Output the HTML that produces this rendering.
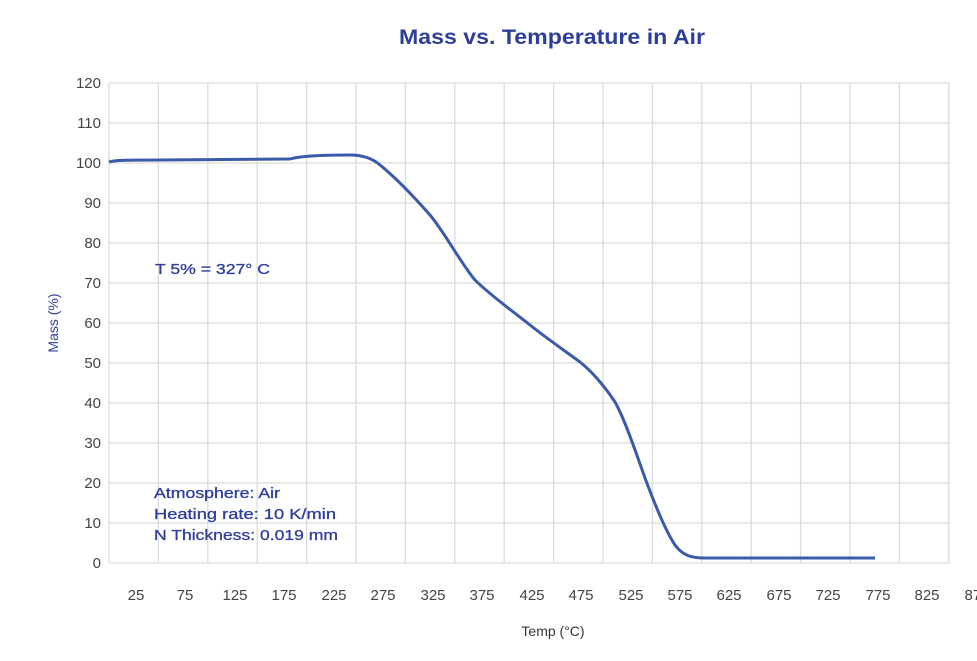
<!DOCTYPE html>
<html><head><style>
body{margin:0;background:#fff;}
svg{display:block;font-family:"Liberation Sans",sans-serif;}
</style></head><body>
<svg width="977" height="661" viewBox="0 0 977 661">
<text x="399" y="44" textLength="306" lengthAdjust="spacingAndGlyphs" font-size="21" font-weight="bold" fill="#2e3f9a">Mass vs. Temperature in Air</text>
<g stroke="#dcdcdc" stroke-width="1.3" fill="none">
<path d="M109 83H949M109 123H949M109 163H949M109 203H949M109 243H949M109 283H949M109 323H949M109 363H949M109 403H949M109 443H949M109 483H949M109 523H949M109 563H949"/>
<path d="M109 83V563M158.4 83V563M207.8 83V563M257.2 83V563M306.6 83V563M356 83V563M405.4 83V563M454.8 83V563M504.2 83V563M553.6 83V563M603 83V563M652.4 83V563M701.8 83V563M751.2 83V563M800.6 83V563M850 83V563M899.4 83V563M948.8 83V563"/>
</g>
<g font-size="15" fill="#444" text-anchor="end">
<text x="101" y="88">120</text><text x="101" y="128">110</text><text x="101" y="168">100</text>
<text x="101" y="208">90</text><text x="101" y="248">80</text><text x="101" y="288">70</text>
<text x="101" y="328">60</text><text x="101" y="368">50</text><text x="101" y="408">40</text>
<text x="101" y="448">30</text><text x="101" y="488">20</text><text x="101" y="528">10</text>
<text x="101" y="568">0</text>
</g>
<g font-size="15" fill="#444" text-anchor="middle">
<text x="136" y="600">25</text><text x="185" y="600">75</text><text x="235" y="600">125</text>
<text x="284" y="600">175</text><text x="334" y="600">225</text><text x="383" y="600">275</text>
<text x="433" y="600">325</text><text x="482" y="600">375</text><text x="532" y="600">425</text>
<text x="581" y="600">475</text><text x="631" y="600">525</text><text x="680" y="600">575</text>
<text x="729" y="600">625</text><text x="779" y="600">675</text><text x="828" y="600">725</text>
<text x="878" y="600">775</text><text x="927" y="600">825</text><text x="977" y="600">875</text>
</g>
<text x="553" y="636" text-anchor="middle" font-size="14" fill="#333">Temp (°C)</text>
<text transform="translate(58,323) rotate(-90)" text-anchor="middle" font-size="14" fill="#2e3f9a">Mass (%)</text>
<g font-size="14.5" fill="#2e3f9a" stroke="#2e3f9a" stroke-width="0.3">
<text x="155" y="274" textLength="115" lengthAdjust="spacingAndGlyphs">T 5% = 327° C</text>
<text x="154" y="498" textLength="126" lengthAdjust="spacingAndGlyphs">Atmosphere: Air</text>
<text x="154" y="519" textLength="182" lengthAdjust="spacingAndGlyphs">Heating rate: 10 K/min</text>
<text x="154" y="540" textLength="184" lengthAdjust="spacingAndGlyphs">N Thickness: 0.019 mm</text>
</g>
<path d="M109 162 C115 160 130 160 160 160 L290 159 C300 156 320 155 350 155 C362 155 372 158 380 165 C395 177 415 198 430 215 C445 233 460 262 475 280 C490 295 515 313 530 325 C545 337 565 351 580 362 C595 374 607 390 615 402 C625 420 635 450 645 478 C655 505 665 530 675 545 C683 556 692 558 705 558 L875 558" fill="none" stroke="#3a5aaa" stroke-width="3"/>
</svg>
</body></html>
